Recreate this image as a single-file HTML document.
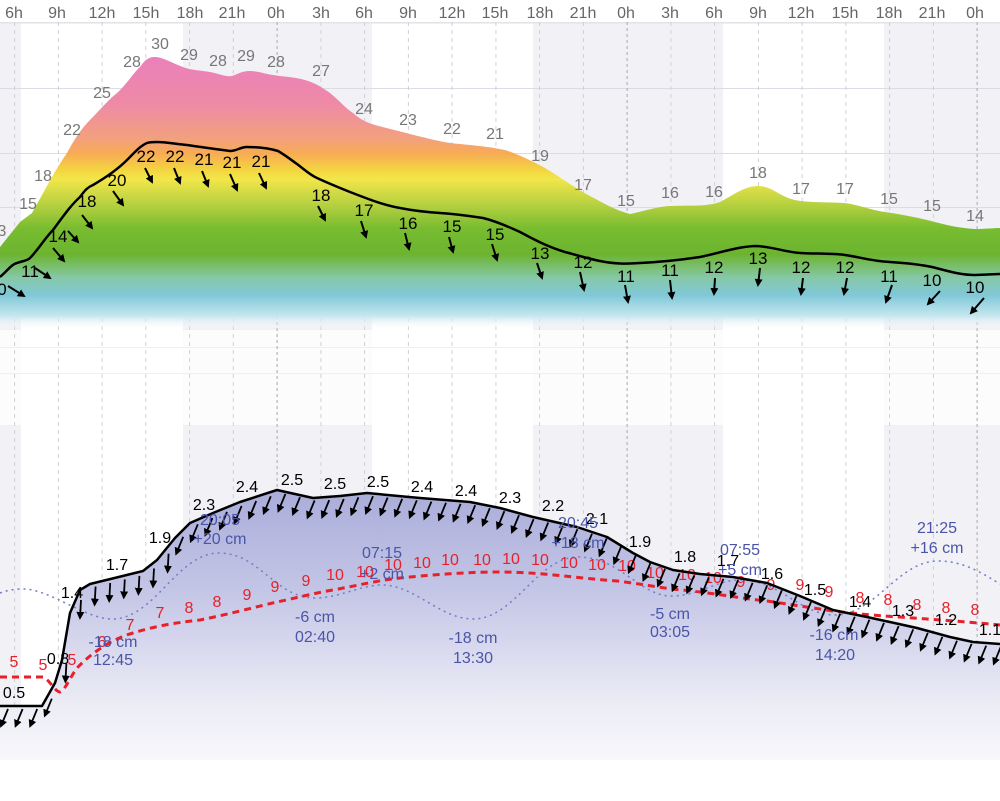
<!DOCTYPE html>
<html><head><meta charset="utf-8"><style>
html,body{margin:0;padding:0;background:#fff;}
svg{display:block;font-family:"Liberation Sans","DejaVu Sans",sans-serif;}
</style></head><body>
<svg id="s" width="1000" height="801" viewBox="0 0 1000 801" xmlns="http://www.w3.org/2000/svg">
<defs>
<linearGradient id="tg" gradientUnits="userSpaceOnUse" x1="0" y1="40" x2="0" y2="330">
<stop offset="0" stop-color="#ea7cc4"/>
<stop offset="0.22" stop-color="#ee8aa6"/>
<stop offset="0.34" stop-color="#f2a07e"/>
<stop offset="0.39" stop-color="#f7ab55"/>
<stop offset="0.45" stop-color="#f4d640"/>
<stop offset="0.48" stop-color="#f2e64a"/>
<stop offset="0.57" stop-color="#b4d040"/>
<stop offset="0.65" stop-color="#78bc30"/>
<stop offset="0.74" stop-color="#6cb430"/>
<stop offset="0.82" stop-color="#86c8a8"/>
<stop offset="0.88" stop-color="#80c8d8"/>
<stop offset="0.95" stop-color="#c4e6ee"/>
<stop offset="1" stop-color="#ffffff" stop-opacity="0"/>
</linearGradient>
<linearGradient id="bg" gradientUnits="userSpaceOnUse" x1="0" y1="480" x2="0" y2="760">
<stop offset="0" stop-color="#a7aad8"/>
<stop offset="0.4" stop-color="#c4c6e6"/>
<stop offset="0.8" stop-color="#ececf6"/>
<stop offset="1" stop-color="#f8f8fb"/>
</linearGradient>
<marker id="ah" markerWidth="8" markerHeight="8" refX="6" refY="4" orient="auto" markerUnits="userSpaceOnUse"><path d="M0,0 L8,4 L0,8 z" fill="#000"/></marker>
<marker id="ah2" markerWidth="8" markerHeight="8" refX="6" refY="4" orient="auto" markerUnits="userSpaceOnUse"><path d="M0,0 L8,4 L0,8 z" fill="#000"/></marker>
</defs>
<g fill="#f1f1f6">
<rect x="0" y="22" width="21" height="738"/>
<rect x="183" y="22" width="189" height="738"/>
<rect x="533" y="22" width="190" height="738"/>
<rect x="884" y="22" width="116" height="738"/>
</g>
<rect x="0" y="330" width="1000" height="95" fill="#fff" opacity="0.75"/>
<g stroke="#dcdce4" stroke-width="1">
<line x1="0" y1="22.5" x2="1000" y2="22.5" stroke="#e2e2e8" stroke-width="2"/>
<line x1="0" y1="88.5" x2="1000" y2="88.5"/>
<line x1="0" y1="153.5" x2="1000" y2="153.5"/>
<line x1="0" y1="207.5" x2="1000" y2="207.5"/>
<line x1="0" y1="347.5" x2="1000" y2="347.5" stroke="#f0f0f2"/>
<line x1="0" y1="373.5" x2="1000" y2="373.5" stroke="#f0f0f2"/>
</g>
<g stroke="#d0d0d8" stroke-width="1" stroke-dasharray="4,4" id="vl"></g>
<path fill="url(#tg)" d="M0,247 L20,222 L32,213 C45,190 55,170 67,153 C75,138 82,128 90,120 C100,110 108,100 117,93 C127,84 134,72 140,67 C145,60 148,57 155,57 C162,57 170,62 183,67 C190,70 197,70 210,72 C220,74 226,77 232,76 C238,74 242,71 250,71 C258,71 265,74 273,75 C285,77 295,77 305,80 C315,83 320,86 330,93 C340,101 345,108 353,113 C360,119 365,122 375,125 C390,129 395,130 410,134 C430,139 445,143 460,144 C480,146 490,147 505,150 C520,155 530,160 545,168 C560,177 575,188 590,196 C605,204 615,210 630,214 C645,211 655,207 670,206 C690,205 705,207 720,202 C735,194 745,186 758,186 C772,186 780,197 795,200 C810,203 830,202 845,203 C860,205 870,210 885,212 C905,215 920,218 935,222 C950,226 960,228 975,229 C985,229 995,228 1000,228 L1000,330 L0,330 Z"/>
<path fill="none" stroke="#000" stroke-width="2.5" stroke-linejoin="round" d="M0,277 C8,270 12,264 17,263 C22,261 27,261 30,258 C38,250 45,238 53,230 C62,218 70,206 80,197 C85,190 88,187 93,185 C105,178 118,169 127,160 C135,152 140,146 147,143 C150,142 153,142 157,142 C167,142 175,144 187,145 C200,147 215,149 230,151 C237,151 240,147 247,147 C258,147 268,148 278,151 C285,155 290,159 297,164 C305,170 310,175 317,178 C330,184 340,188 350,192 C368,199 383,205 400,208 C415,211 425,212 440,213 C455,214 470,216 483,218 C495,221 505,225 520,232 C535,240 548,247 565,252 C580,256 590,259 600,261 C615,264 625,264 640,263 C660,262 680,260 700,257 C720,253 735,247 755,246 C770,246 785,252 800,253 C815,254 830,253 845,255 C860,257 870,261 890,262 C905,263 918,264 932,267 C948,271 960,275 975,275 C985,275 993,274 1000,274"/>
<g fill="#777" font-size="16" text-anchor="middle">
<text x="2" y="236">3</text><text x="28" y="209">15</text><text x="43" y="181">18</text><text x="72" y="135">22</text><text x="102" y="98">25</text><text x="132" y="67">28</text><text x="160" y="49">30</text><text x="189" y="60">29</text><text x="218" y="66">28</text><text x="246" y="61">29</text><text x="276" y="67">28</text><text x="321" y="76">27</text><text x="364" y="114">24</text><text x="408" y="125">23</text><text x="452" y="134">22</text><text x="495" y="139">21</text><text x="540" y="161">19</text><text x="583" y="190">17</text><text x="626" y="206">15</text><text x="670" y="198">16</text><text x="714" y="197">16</text><text x="758" y="178">18</text><text x="801" y="194">17</text><text x="845" y="194">17</text><text x="889" y="204">15</text><text x="932" y="211">15</text><text x="975" y="221">14</text>
</g>
<g fill="#000" font-size="17" text-anchor="middle">
<text x="2" y="295">0</text><text x="30" y="277">11</text><text x="58" y="242">14</text><text x="87" y="207">18</text><text x="117" y="186">20</text><text x="146" y="162">22</text><text x="175" y="162">22</text><text x="204" y="165">21</text><text x="232" y="168">21</text><text x="261" y="167">21</text><text x="321" y="201">18</text><text x="364" y="216">17</text><text x="408" y="229">16</text><text x="452" y="232">15</text><text x="495" y="240">15</text><text x="540" y="259">13</text><text x="583" y="268">12</text><text x="626" y="282">11</text><text x="670" y="276">11</text><text x="714" y="273">12</text><text x="758" y="264">13</text><text x="801" y="273">12</text><text x="845" y="273">12</text><text x="889" y="282">11</text><text x="932" y="286">10</text><text x="975" y="293">10</text>
</g>
<g stroke="#000" stroke-width="2" marker-end="url(#ah)">
<line x1="8" y1="286" x2="24" y2="296"/><line x1="35" y1="268" x2="50" y2="278"/><line x1="53" y1="248" x2="64" y2="261"/><line x1="68" y1="231" x2="78" y2="242"/><line x1="82" y1="215" x2="92" y2="228"/><line x1="113" y1="191" x2="123" y2="205"/><line x1="145" y1="168" x2="152" y2="182"/><line x1="174" y1="168" x2="180" y2="183"/><line x1="202" y1="171" x2="208" y2="186"/><line x1="230" y1="174" x2="237" y2="190"/><line x1="259" y1="173" x2="266" y2="188"/><line x1="318" y1="206" x2="325" y2="220"/><line x1="361" y1="221" x2="366" y2="237"/><line x1="405" y1="233" x2="409" y2="249"/><line x1="449" y1="237" x2="453" y2="252"/><line x1="492" y1="244" x2="497" y2="260"/><line x1="537" y1="263" x2="542" y2="278"/><line x1="580" y1="272" x2="584" y2="290"/><line x1="625" y1="285" x2="628" y2="302"/><line x1="670" y1="280" x2="672" y2="298"/><line x1="715" y1="278" x2="714" y2="294"/><line x1="760" y1="268" x2="758" y2="285"/><line x1="803" y1="278" x2="801" y2="294"/><line x1="847" y1="278" x2="844" y2="294"/><line x1="892" y1="285" x2="886" y2="302"/><line x1="940" y1="291" x2="928" y2="304"/><line x1="984" y1="298" x2="971" y2="313"/>
</g>
<rect x="0" y="0" width="1000" height="22" fill="#fff"/>
<g fill="#666" font-size="16" text-anchor="middle">
<text x="14" y="18">6h</text><text x="57" y="18">9h</text><text x="102" y="18">12h</text><text x="146" y="18">15h</text><text x="190" y="18">18h</text><text x="232" y="18">21h</text><text x="276" y="18">0h</text><text x="321" y="18">3h</text><text x="364" y="18">6h</text><text x="408" y="18">9h</text><text x="452" y="18">12h</text><text x="495" y="18">15h</text><text x="540" y="18">18h</text><text x="583" y="18">21h</text><text x="626" y="18">0h</text><text x="670" y="18">3h</text><text x="714" y="18">6h</text><text x="758" y="18">9h</text><text x="801" y="18">12h</text><text x="845" y="18">15h</text><text x="889" y="18">18h</text><text x="932" y="18">21h</text><text x="975" y="18">0h</text>
</g>
<path id="wa" fill="url(#bg)" d=""/>
<path fill="none" stroke="#6f7fc8" stroke-width="1.5" stroke-dasharray="2,4" d="M0,593 C8,590 15,589 23,589 C50,589 85,619 112,619 C155,619 177,553 219,553 C260,553 275,598 315,598 C340,598 360,585 382,585 C415,585 440,619 473,619 C515,619 537,557 578,557 C620,557 640,596 671,596 C700,596 715,580 741,580 C780,580 800,615 835,615 C875,615 898,561 938,561 C965,561 985,575 1000,584"/>
<path fill="none" stroke="#e8202a" stroke-width="3" stroke-dasharray="7,5" d="M0,677 L43,677 C50,680 55,692 60,692 C66,690 72,672 80,665 C95,650 115,638 133,633 C155,626 180,622 200,620 C230,614 255,607 277,602 C300,597 315,593 333,590 C360,585 380,580 400,578 C440,574 470,572 500,572 C540,572 575,578 617,581 C650,585 665,589 683,590 C720,594 745,599 767,601 C800,606 820,609 833,611 C860,614 880,616 900,617 C940,620 970,622 1000,625"/>
<g fill="#e8202a" font-size="16" text-anchor="middle">
<text x="14" y="667">5</text><text x="43" y="670">5</text><text x="72" y="665">5</text><text x="102" y="647">6</text><text x="130" y="630">7</text><text x="160" y="618">7</text><text x="189" y="613">8</text><text x="217" y="607">8</text><text x="247" y="600">9</text><text x="275" y="592">9</text><text x="306" y="586">9</text><text x="335" y="580">10</text><text x="365" y="577">10</text><text x="393" y="570">10</text><text x="422" y="568">10</text><text x="450" y="565">10</text><text x="482" y="565">10</text><text x="511" y="564">10</text><text x="540" y="565">10</text><text x="569" y="568">10</text><text x="597" y="570">10</text><text x="627" y="571">10</text><text x="655" y="578">10</text><text x="687" y="580">10</text><text x="713" y="583">10</text><text x="741" y="587">9</text><text x="771" y="590">9</text><text x="800" y="590">9</text><text x="829" y="597">9</text><text x="860" y="603">8</text><text x="888" y="605">8</text><text x="917" y="610">8</text><text x="946" y="613">8</text><text x="975" y="615">8</text>
</g>
<path id="wl" fill="none" stroke="#000" stroke-width="2.5" stroke-linejoin="round" d=""/>
<g id="wr" stroke="#000" stroke-width="1.8" marker-end="url(#ah2)"></g>
<g fill="#000" font-size="16" text-anchor="middle">
<text x="14" y="698">0.5</text><text x="58" y="664">0.8</text><text x="72" y="598">1.4</text><text x="117" y="570">1.7</text><text x="160" y="543">1.9</text><text x="204" y="510">2.3</text><text x="247" y="492">2.4</text><text x="292" y="485">2.5</text><text x="335" y="489">2.5</text><text x="378" y="487">2.5</text><text x="422" y="492">2.4</text><text x="466" y="496">2.4</text><text x="510" y="503">2.3</text><text x="553" y="511">2.2</text><text x="597" y="524">2.1</text><text x="640" y="547">1.9</text><text x="685" y="562">1.8</text><text x="728" y="566">1.7</text><text x="772" y="579">1.6</text><text x="815" y="595">1.5</text><text x="860" y="607">1.4</text><text x="903" y="616">1.3</text><text x="946" y="625">1.2</text><text x="990" y="635">1.1</text>
</g>
<g fill="#4a55a8" font-size="16" text-anchor="middle">
<text x="113" y="647">-18 cm</text><text x="113" y="665">12:45</text>
<text x="220" y="525">20:05</text><text x="220" y="544">+20 cm</text>
<text x="315" y="622">-6 cm</text><text x="315" y="642">02:40</text>
<text x="382" y="558">07:15</text><text x="382" y="579">+2 cm</text>
<text x="473" y="643">-18 cm</text><text x="473" y="663">13:30</text>
<text x="578" y="528">20:45</text><text x="578" y="548">+18 cm</text>
<text x="670" y="619">-5 cm</text><text x="670" y="637">03:05</text>
<text x="740" y="555">07:55</text><text x="740" y="575">+5 cm</text>
<text x="834" y="640">-16 cm</text><text x="835" y="660">14:20</text>
<text x="937" y="533">21:25</text><text x="937" y="553">+16 cm</text>
</g>
</svg>
<script>
(function(){
var NS="http://www.w3.org/2000/svg";
var vl=document.getElementById("vl");
for(var i=0;i<23;i++){var x=14.6+i*43.75;var l=document.createElementNS(NS,"line");
l.setAttribute("x1",x.toFixed(1));l.setAttribute("x2",x.toFixed(1));l.setAttribute("y1",22);l.setAttribute("y2",760);
if((i-6)%8===0){l.setAttribute("stroke","#a8a8b0");l.setAttribute("stroke-dasharray","3,3");}
vl.appendChild(l);}
var P=[[0,706],[42,706],[55,683],[62,660],[70,613],[80,590],[90,584],[143,571],[157,560],[175,538],[190,523],[213,513],[240,502],[277,490],[313,498],[340,496],[367,493],[420,498],[470,502],[500,508],[533,517],[577,527],[607,537],[633,553],[650,562],[673,570],[700,574],[733,577],[767,583],[800,596],[833,610],[867,617],[917,628],[950,637],[973,642],[1000,644]];
function yAt(x){for(var i=0;i<P.length-1;i++){if(x>=P[i][0]&&x<=P[i+1][0]){var t=(x-P[i][0])/(P[i+1][0]-P[i][0]);return P[i][1]+t*(P[i+1][1]-P[i][1]);}}return P[P.length-1][1];}
var d="M"+P.map(function(p){return p[0]+","+p[1];}).join(" L");
document.getElementById("wl").setAttribute("d",d);
document.getElementById("wa").setAttribute("d",d+" L1000,760 L0,760 Z");
var wr=document.getElementById("wr");
for(var x=4;x<1000;x+=14.6){var y=yAt(x)+3;var dx=-7,dy=17;
if(x>55&&x<165){dx=-1;dy=18;}
if(x>55&&x<72){y=yAt(x)+6;}
var l=document.createElementNS(NS,"line");
l.setAttribute("x1",(x+4).toFixed(1));l.setAttribute("y1",y.toFixed(1));l.setAttribute("x2",(x+4+dx).toFixed(1));l.setAttribute("y2",(y+dy).toFixed(1));wr.appendChild(l);}
})();
</script>
</body></html>
